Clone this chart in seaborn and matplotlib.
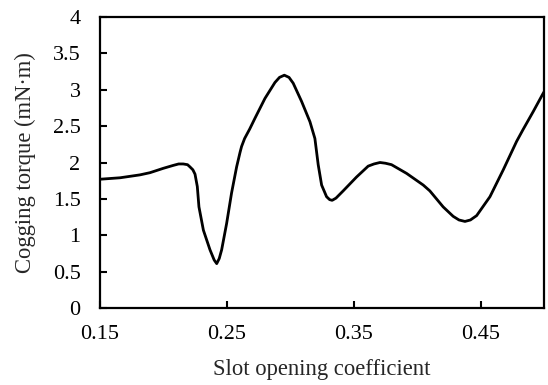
import matplotlib
matplotlib.use("Agg")
import matplotlib.pyplot as plt
import seaborn as sns
import pandas as pd

slot_opening = [0.1500, 0.1658, 0.1815, 0.1894, 0.1999, 0.2077, 0.2120, 0.2156, 0.2190, 0.2209,
                0.2232, 0.2249, 0.2267, 0.2280, 0.2315, 0.2367, 0.2400, 0.2420, 0.2440, 0.2459,
                0.2498, 0.2537, 0.2577, 0.2604, 0.2616, 0.2640, 0.2680, 0.2722, 0.2800, 0.2879,
                0.2915, 0.2953, 0.2990, 0.3023, 0.3089, 0.3155, 0.3194, 0.3220, 0.3247, 0.3286,
                0.3310, 0.3330, 0.3360, 0.3417, 0.3522, 0.3614, 0.3660, 0.3707, 0.3750, 0.3798,
                0.3917, 0.4048, 0.4100, 0.4205, 0.4284, 0.4330, 0.4377, 0.4420, 0.4469, 0.4574,
                0.4679, 0.4784, 0.4834, 0.4915, 0.4990, 0.5000]
cogging_torque = [1.77, 1.79, 1.83, 1.86, 1.92, 1.96, 1.98, 1.98, 1.97, 1.94,
                  1.90, 1.84, 1.67, 1.39, 1.07, 0.80, 0.66, 0.61, 0.68, 0.80,
                  1.16, 1.58, 1.94, 2.14, 2.22, 2.33, 2.46, 2.61, 2.88, 3.10,
                  3.17, 3.20, 3.17, 3.09, 2.84, 2.56, 2.33, 1.97, 1.69, 1.53,
                  1.49, 1.48, 1.51, 1.61, 1.80, 1.95, 1.98, 2.00, 1.99, 1.97,
                  1.85, 1.69, 1.61, 1.39, 1.26, 1.21, 1.19, 1.21, 1.27, 1.53,
                  1.90, 2.29, 2.45, 2.70, 2.94, 2.97]

x_ticks = [0.15, 0.25, 0.35, 0.45]
x_tick_labels = ["0.15", "0.25", "0.35", "0.45"]
y_ticks = [0, 0.5, 1, 1.5, 2, 2.5, 3, 3.5, 4]
y_tick_labels = ["0", "0.5", "1", "1.5", "2", "2.5", "3", "3.5", "4"]

df = pd.DataFrame({"x": slot_opening, "y": cogging_torque})

sns.set_style("ticks")
plt.rcParams["font.family"] = ["Liberation Serif", "DejaVu Serif"]

fig = plt.figure(figsize=(5.48, 3.85), dpi=100)
ax = fig.add_axes([100 / 548, 1 - 308 / 385, 444 / 548, 291 / 385])

sns.lineplot(data=df, x="x", y="y", ax=ax, color="black", linewidth=2.0,
             estimator=None, sort=False)
ax.lines[0].set_solid_joinstyle("round")
ax.lines[0].set_solid_capstyle("round")

ax.set_xlim(0.15, 0.50)
ax.set_ylim(0, 4)
ax.set_xticks(x_ticks)
ax.set_xticklabels(x_tick_labels)
ax.set_yticks(y_ticks)
ax.set_yticklabels(y_tick_labels)

for s in ax.spines.values():
    s.set_visible(True)
    s.set_linewidth(1.6)
    s.set_color("black")

ax.tick_params(axis="both", direction="in", length=5, width=1.5, colors="black",
               labelsize=16, top=False, right=False)
ax.tick_params(axis="x", pad=12)
ax.tick_params(axis="y", pad=14)

ax.set_xlabel("Slot opening coefficient", fontsize=16.3, labelpad=11)
ax.set_ylabel("Cogging torque (mN·m)", fontsize=16.3, labelpad=12)

fig.savefig("out.png", dpi=100, facecolor="white")
